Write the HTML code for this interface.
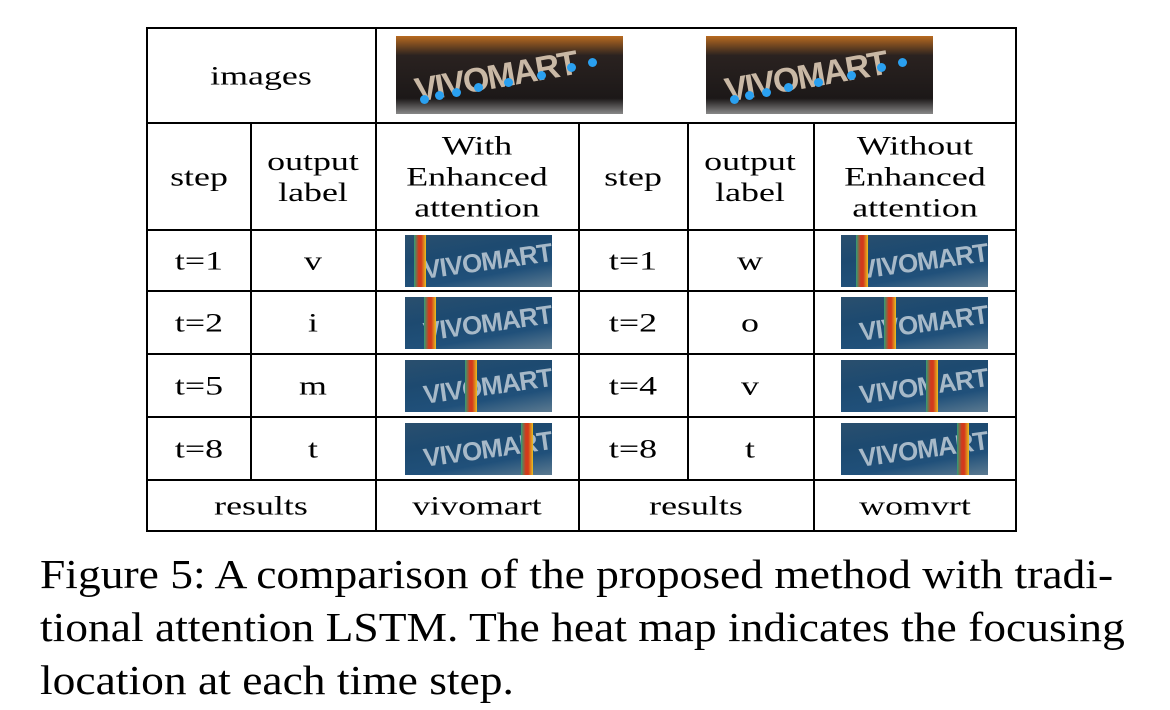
<!DOCTYPE html>
<html><head><meta charset="utf-8"><style>
body{margin:0;background:#fff;width:1170px;height:710px;position:relative;overflow:hidden;font-family:"Liberation Serif",serif;color:#000}
.l{position:absolute;background:#000}
.t{position:absolute;font-size:26px;text-align:center;line-height:31px;transform:translate(-50%,-50%) scaleX(1.38);white-space:nowrap}
.im{position:absolute;background:linear-gradient(170deg,#2a4f6e 0%,#1d4a70 35%,#20507a 70%,#5c7a90 100%);overflow:hidden}
.im span.w{position:absolute;left:12%;top:22%;font:bold 26px "Liberation Sans",sans-serif;color:#a7b9c8;transform:rotate(-8deg);letter-spacing:-1px}
.st{position:absolute;top:0;height:100%;width:12px;background:linear-gradient(90deg,#2aa07a,#d23a1c 40%,#d23a1c 60%,#e8c020)}
.top{position:absolute;background:linear-gradient(180deg,#b86a20 0%,#2a2220 25%,#1c1818 80%,#888 100%);overflow:hidden}
.top span.w{position:absolute;left:8%;top:28%;font:bold 34px "Liberation Sans",sans-serif;color:#c9b8a5;transform:rotate(-10deg);letter-spacing:-2px}
.dot{position:absolute;width:9px;height:9px;border-radius:50%;background:#2aa0f0}
.cap{position:absolute;left:40px;font-size:41px;line-height:53px;white-space:nowrap;transform:scaleX(1.11);transform-origin:left top}
</style></head><body>
<div>
<div class="l" style="left:146px;top:27px;width:871px;height:2px"></div>
<div class="l" style="left:146px;top:122px;width:871px;height:2px"></div>
<div class="l" style="left:146px;top:229px;width:871px;height:2px"></div>
<div class="l" style="left:146px;top:290px;width:871px;height:2px"></div>
<div class="l" style="left:146px;top:353px;width:871px;height:2px"></div>
<div class="l" style="left:146px;top:416px;width:871px;height:2px"></div>
<div class="l" style="left:146px;top:479px;width:871px;height:2px"></div>
<div class="l" style="left:146px;top:530px;width:871px;height:2px"></div>
<div class="l" style="left:146px;top:27px;width:2px;height:505px"></div>
<div class="l" style="left:1015px;top:27px;width:2px;height:505px"></div>
<div class="l" style="left:375px;top:27px;width:2px;height:505px"></div>
<div class="l" style="left:250px;top:122px;width:2px;height:358px"></div>
<div class="l" style="left:578px;top:122px;width:2px;height:410px"></div>
<div class="l" style="left:687px;top:122px;width:2px;height:358px"></div>
<div class="l" style="left:813px;top:122px;width:2px;height:410px"></div>
</div>
<div class="t" style="left:261px;top:76px">images</div>
<div class="top" style="left:396px;top:36px;width:227px;height:78px"><span class="w">VIVOMART</span>
<div class="dot" style="left:24px;top:59px"></div><div class="dot" style="left:39px;top:55px"></div><div class="dot" style="left:56px;top:52px"></div><div class="dot" style="left:78px;top:47px"></div><div class="dot" style="left:108px;top:42px"></div><div class="dot" style="left:141px;top:35px"></div><div class="dot" style="left:171px;top:27px"></div><div class="dot" style="left:192px;top:22px"></div></div>
<div class="top" style="left:706px;top:36px;width:227px;height:78px"><span class="w">VIVOMART</span>
<div class="dot" style="left:24px;top:59px"></div><div class="dot" style="left:39px;top:55px"></div><div class="dot" style="left:56px;top:52px"></div><div class="dot" style="left:78px;top:47px"></div><div class="dot" style="left:108px;top:42px"></div><div class="dot" style="left:141px;top:35px"></div><div class="dot" style="left:171px;top:27px"></div><div class="dot" style="left:192px;top:22px"></div></div>
<div class="t" style="left:199px;top:177px">step</div>
<div class="t" style="left:313px;top:177px">output<br>label</div>
<div class="t" style="left:477px;top:177px">With<br>Enhanced<br>attention</div>
<div class="t" style="left:633px;top:177px">step</div>
<div class="t" style="left:750px;top:177px">output<br>label</div>
<div class="t" style="left:915px;top:177px">Without<br>Enhanced<br>attention</div>
<div class="t" style="left:261px;top:506px">results</div>
<div class="t" style="left:477px;top:506px">vivomart</div>
<div class="t" style="left:696px;top:506px">results</div>
<div class="t" style="left:915px;top:506px">womvrt</div>
<div class="cap" style="top:548px">Figure 5: A comparison of the proposed method with tradi-<br>tional attention LSTM. The heat map indicates the focusing<br>location at each time step.</div>
<script>
const leftSteps=["t=1","t=2","t=5","t=8"];
const leftLabels=["v","i","m","t"];
const leftFocus=[0.1,0.17,0.45,0.83];
const rightSteps=["t=1","t=2","t=4","t=8"];
const rightLabels=["w","o","v","t"];
const rightFocus=[0.14,0.33,0.62,0.83];
const rowCenters=[261,323,386,449];
function txt(x,y,s,n){const d=document.createElement('div');d.className='t';d.style.left=x+'px';d.style.top=y+'px';d.textContent=s;


document.body.appendChild(d);}
function img(x,y,f,n){const d=document.createElement('div');d.className='im';d.style.left=x+'px';d.style.top=(y-26)+'px';d.style.width='147px';d.style.height='52px';


d.innerHTML='<span class="w">VIVOMART</span>';const s=document.createElement('div');s.className='st';s.style.left=(f*147-6)+'px';


d.appendChild(s);document.body.appendChild(d);}
rowCenters.forEach((y,i)=>{
txt(199,y,leftSteps[i],'step-left-'+i);txt(313,y,leftLabels[i],'label-left-'+i);img(405,y,leftFocus[i],'heatmap-left-'+i);
txt(633,y,rightSteps[i],'step-right-'+i);txt(750,y,rightLabels[i],'label-right-'+i);img(841,y,rightFocus[i],'heatmap-right-'+i);
});
</script>
</body></html>
